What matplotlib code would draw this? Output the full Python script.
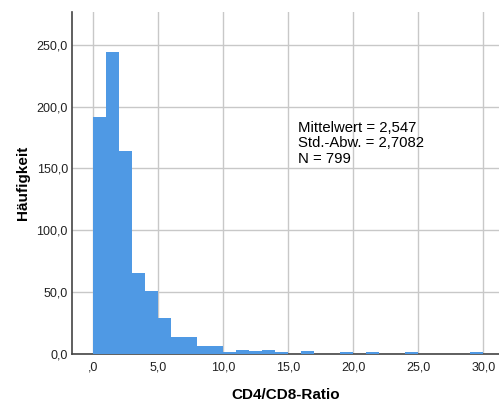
import numpy as np
import matplotlib
matplotlib.use("Agg")
import matplotlib.pyplot as plt

plt.rcParams['font.family'] = ['Liberation Sans', 'DejaVu Sans']

# Klassen der CD4/CD8-Ratio (Breite 1,0) und Häufigkeiten
bin_edges = np.arange(0, 31, 1.0)
counts = [192, 244, 164, 65, 51, 29, 13, 13, 6, 6,
          1, 3, 2, 3, 1, 0, 2, 0, 0, 1,
          0, 1, 0, 0, 1, 0, 0, 0, 0, 1]

x_ticks = [0, 5, 10, 15, 20, 25, 30]
x_labels = [",0", "5,0", "10,0", "15,0", "20,0", "25,0", "30,0"]
y_ticks = [0, 50, 100, 150, 200, 250]
y_labels = ["0,0", "50,0", "100,0", "150,0", "200,0", "250,0"]

stats_text = "Mittelwert = 2,547\nStd.-Abw. = 2,7082\nN = 799"

fig = plt.figure(figsize=(4.99, 4.01), dpi=100)
ax = fig.add_axes([72 / 499, 47.5 / 401, 1 - 72 / 499, 341.5 / 401])

ax.bar(bin_edges[:-1], counts, width=1.0, align='edge',
       color='#4f99e4', linewidth=0, zorder=3)

ax.set_xlim(-1.65, 31.2)
ax.set_ylim(0, 276.7)

ax.set_xticks(x_ticks)
ax.set_xticklabels(x_labels)
ax.set_yticks(y_ticks)
ax.set_yticklabels(y_labels)
ax.tick_params(axis='both', length=0, labelsize=9, colors='#222222')
ax.tick_params(axis='x', pad=6)
ax.tick_params(axis='y', pad=3)

ax.grid(True, color='#c8c8c8', linewidth=1.0, zorder=0)
ax.set_axisbelow(True)

for side in ['top', 'right']:
    ax.spines[side].set_visible(False)
for side in ['left', 'bottom']:
    ax.spines[side].set_color('#444444')
    ax.spines[side].set_linewidth(1.2)

ax.set_xlabel("CD4/CD8-Ratio", fontsize=11, fontweight='bold', labelpad=10)
ax.set_ylabel("Häufigkeit", fontsize=11, fontweight='bold', labelpad=5)

fig.text(298 / 499, 1 - 121 / 401, stats_text,
         fontsize=10.7, va='top', ha='left', linespacing=1.13)

fig.savefig("out.png", dpi=100)
